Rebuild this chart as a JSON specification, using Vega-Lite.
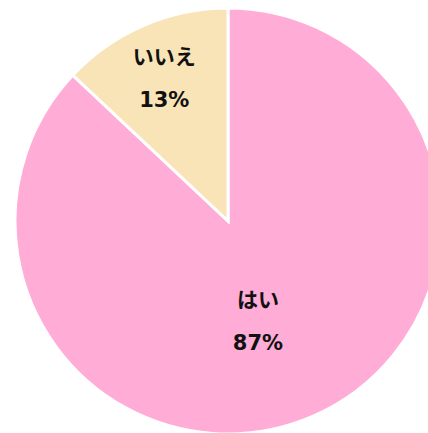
{
  "$schema": "https://vega.github.io/schema/vega-lite/v6.json",
  "width": 456,
  "height": 442,
  "padding": 0,
  "autosize": {"type": "none"},
  "background": "white",
  "view": {"stroke": null},
  "config": {"text": {"lineBreak": "\n"}},
  "data": {
    "values": [
      {"answer": "はい", "pct": 87, "label": "はい\n87%"},
      {"answer": "いいえ", "pct": 13, "label": "いいえ\n13%"}
    ]
  },
  "encoding": {
    "theta": {"field": "pct", "type": "quantitative", "stack": true},
    "order": {"field": "pct", "sort": "descending"}
  },
  "layer": [
    {
      "mark": {"type": "arc", "outerRadius": 213, "stroke": "white", "strokeWidth": 3},
      "encoding": {
        "color": {
          "field": "answer",
          "type": "nominal",
          "scale": {"domain": ["はい", "いいえ"], "range": ["#FFACD6", "#F9E4B7"]},
          "legend": null
        }
      }
    },
    {
      "mark": {
        "type": "text",
        "radius": {"expr": "datum.answer == 'はい' ? 103 : 158"},
        "dx": {"expr": "datum.answer == 'はい' ? -11 : -1"},
        "dy": {"expr": "datum.answer == 'はい' ? -15 : -18"},
        "font": "DejaVu Sans, Noto Sans CJK JP",
        "fontSize": 21,
        "fontWeight": "bold",
        "lineHeight": 43,
        "color": "#111111",
        "align": "center",
        "baseline": "middle"
      },
      "encoding": {"text": {"field": "label", "type": "nominal"}}
    }
  ]
}
